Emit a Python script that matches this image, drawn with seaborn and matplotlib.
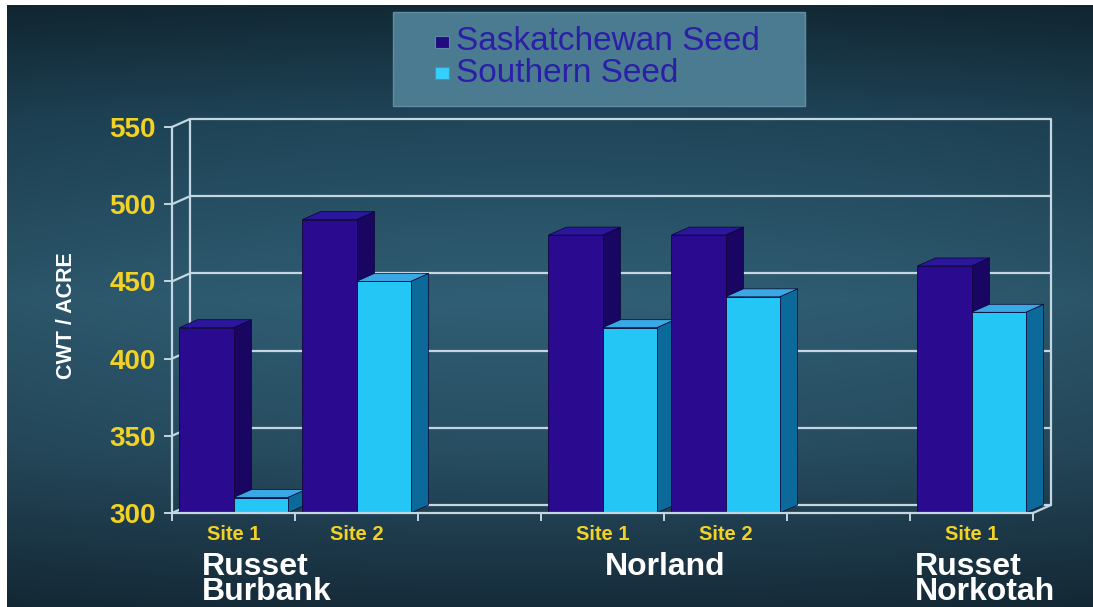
import numpy as np
import pandas as pd
import matplotlib
matplotlib.use("Agg")
import matplotlib.pyplot as plt
import matplotlib.transforms as mtransforms
from matplotlib.patches import Polygon, Rectangle
import seaborn as sns

# ---------------- data ----------------
slots = ["RB Site 1", "RB Site 2", "gap A", "N Site 1", "N Site 2", "gap B", "RN Site 1"]
site_labels = ["Site 1", "Site 2", "", "Site 1", "Site 2", "", "Site 1"]
bar_slots = ["RB Site 1", "RB Site 2", "N Site 1", "N Site 2", "RN Site 1"]
series = ["Saskatchewan Seed", "Southern Seed"]
sask_values = [420, 490, 480, 480, 460]
southern_values = [310, 450, 420, 440, 430]
group_labels = ["Russet\nBurbank", "Norland", "Russet\nNorkotah"]
yticks = [300, 350, 400, 450, 500, 550]
ylabel = "CWT / ACRE"

# ---------------- style ----------------
W, H = 1093, 607
front_cols = {"Saskatchewan Seed": "#2a0a8e", "Southern Seed": "#24c6f6"}
side_cols = {"Saskatchewan Seed": "#190662", "Southern Seed": "#0c6a9a"}
top_cols = {"Saskatchewan Seed": "#2c169c", "Southern Seed": "#3aa8e4"}
grid_col = "#c3d6e2"
yellow = "#f2d224"
DX, DY = 18, 8  # depth offset in pixels

sns.set_theme(style="white")
plt.rcParams["font.family"] = ["Liberation Sans", "DejaVu Sans"]

fig = plt.figure(figsize=(W / 100, H / 100), dpi=100)

# background gradient
bg = fig.add_axes([0, 0, 1, 1], zorder=-10)
ys = np.array([0, 120, 300, 450, 607]) / H
cols = np.array([[18, 40, 52], [32, 70, 90], [48, 94, 116], [40, 78, 98], [22, 44, 58]]) / 255
yy = np.linspace(0, 1, H)
grad = np.stack([np.interp(yy, ys, cols[:, k]) for k in range(3)], axis=-1)
img = np.repeat(grad[:, None, :], W, axis=1)
xx = np.linspace(-1, 1, W)
img = img * (1 - 0.10 * xx[None, :, None] ** 2)
img[:5, :, :] = 1.0
img[:, :7, :] = 1.0
bg.imshow(img, aspect="auto", extent=[0, 1, 0, 1], origin="upper")
bg.set_axis_off()

# main axes = front plane
ax = fig.add_axes([172 / W, (H - 513) / H, 861 / W, 386 / H])
ax.patch.set_alpha(0)

df = pd.DataFrame({
    "slot": bar_slots * 2,
    "series": [series[0]] * len(bar_slots) + [series[1]] * len(bar_slots),
    "value": sask_values + southern_values,
})
sns.barplot(data=df, x="slot", y="value", hue="series", order=slots,
            hue_order=series, palette=front_cols, width=0.88, saturation=1,
            legend=False, ax=ax, linewidth=0.6, edgecolor="#12063c", errorbar=None)

ax.set_xlim(-0.5, len(slots) - 0.5)
ax.set_ylim(yticks[0], yticks[-1])

for s in ["top", "right"]:
    ax.spines[s].set_visible(False)
for s in ["left", "bottom"]:
    ax.spines[s].set_color(grid_col)
    ax.spines[s].set_linewidth(1.6)
    ax.spines[s].set_zorder(20)

ax.set_yticks(yticks)
ax.set_yticklabels([str(v) for v in yticks])
ax.tick_params(axis="y", which="major", direction="out", length=5.8, width=1.4,
               color=grid_col, pad=6, labelsize=20, labelcolor=yellow, left=True)
for t in ax.get_yticklabels():
    t.set_fontweight("bold")

ax.set_xticks(range(len(slots)))
ax.set_xticklabels(site_labels)
ax.set_xticks(np.arange(len(slots) + 1) - 0.5, minor=True)
ax.tick_params(axis="x", which="major", length=0, pad=9, labelsize=14.5,
               labelcolor=yellow, bottom=True)
ax.tick_params(axis="x", which="minor", direction="out", length=5.5, width=1.4,
               color=grid_col, bottom=True)
for t in ax.get_xticklabels():
    t.set_fontweight("bold")
ax.set_xlabel("")
ax.set_ylabel("")
ax.grid(False)

# back wall
back = mtransforms.offset_copy(ax.transData, fig=fig, x=DX, y=DY, units="dots")
x0, x1 = -0.5, len(slots) - 0.5
for v in yticks:
    ax.plot([x0, x1], [v, v], color=grid_col, lw=1.6, transform=back,
            clip_on=False, zorder=1, solid_capstyle="butt")
ax.plot([x0, x0], [yticks[0], yticks[-1]], color=grid_col, lw=1.6, transform=back,
        clip_on=False, zorder=1)
ax.plot([x1, x1], [yticks[0], yticks[-1]], color=grid_col, lw=1.6, transform=back,
        clip_on=False, zorder=1)
ident = mtransforms.IdentityTransform()
fig.canvas.draw()
T = ax.transData
for v in yticks:
    X, Y = T.transform((x0, v))
    ax.plot([X, X + DX], [Y, Y + DY], color=grid_col, lw=1.6, transform=ident,
            clip_on=False, zorder=1)
X, Y = T.transform((x1, yticks[0]))
ax.plot([X, X + DX], [Y, Y + DY], color=grid_col, lw=1.6, transform=ident,
        clip_on=False, zorder=1)

# 3-D faces for each bar
bars = sorted([p for p in ax.patches if p.get_height() > 0], key=lambda p: p.get_x())
for i, p in enumerate(bars):
    fc = matplotlib.colors.to_hex(p.get_facecolor())
    name = series[0] if fc == matplotlib.colors.to_hex(front_cols[series[0]]) else series[1]
    bx0, bx1 = p.get_x(), p.get_x() + p.get_width()
    h = p.get_height()
    (X0, Yb), (X1, Yh) = T.transform([(bx0, yticks[0]), (bx1, h)])
    side = Polygon([(X1, Yb), (X1, Yh), (X1 + DX, Yh + DY), (X1 + DX, Yb + DY)],
                   closed=True, transform=ident, clip_on=False,
                   facecolor=side_cols[name], edgecolor="#0a0330", lw=0.5,
                   zorder=3 + i * 0.01)
    top = Polygon([(X0, Yh), (X1, Yh), (X1 + DX, Yh + DY), (X0 + DX, Yh + DY)],
                  closed=True, transform=ident, clip_on=False,
                  facecolor=top_cols[name], edgecolor="#0a0330", lw=0.5,
                  zorder=3 + i * 0.01 + 0.003)
    ax.add_patch(side)
    ax.add_patch(top)
    p.set_zorder(3 + i * 0.01 + 0.006)

# group labels
bt = mtransforms.blended_transform_factory(ax.transData, ax.transAxes)
gkw = dict(transform=bt, va="top", color="white", fontsize=23,
           fontweight="bold", linespacing=0.78)
ax.text(-0.26, -0.100, group_labels[0], ha="left", **gkw)
ax.text(3.51, -0.100, group_labels[1], ha="center", **gkw)
ax.text(5.54, -0.100, group_labels[2], ha="left", **gkw)

# y label
fig.text(66 / W, 1 - 316 / H, ylabel, rotation=90, ha="center", va="center",
         color="white", fontsize=15.5, fontweight="bold")

# legend box
fig.patches.append(Rectangle((393 / W, 1 - 106 / H), 412 / W, 94 / H,
                             transform=fig.transFigure, facecolor="#4b7b91",
                             edgecolor="#5f8ea3", lw=1, zorder=5))
legend_sq = {"Saskatchewan Seed": "#220a80", "Southern Seed": "#34d0fc"}
for k, (name, yc) in enumerate(zip(series, [42, 73])):
    fig.patches.append(Rectangle((435 / W, 1 - (yc + 6) / H), 14 / W, 12 / H,
                                 transform=fig.transFigure, facecolor=legend_sq[name],
                                 edgecolor="#5a8aa8", lw=0.8, zorder=6))
    fig.text(456 / W, 1 - yc / H, name, ha="left", va="center", color="#2b1fa8",
             fontsize=24, zorder=6)

fig.savefig("out.png", dpi=100)
